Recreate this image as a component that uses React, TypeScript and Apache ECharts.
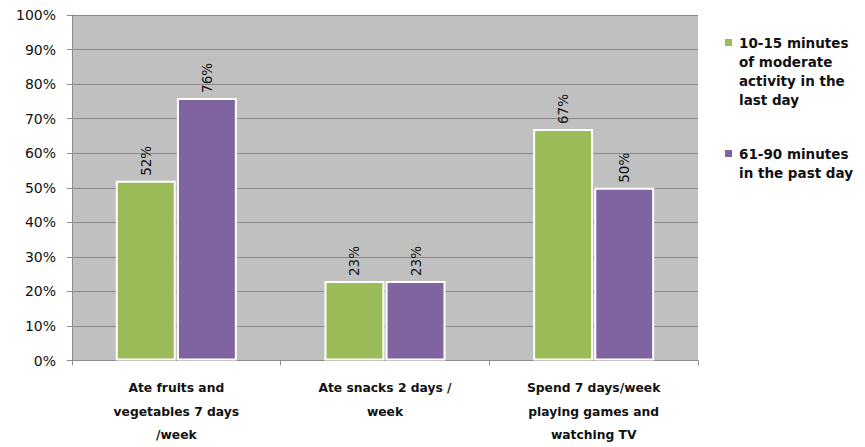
import React, { useEffect, useRef } from "react";
import * as echarts from "echarts";

const categories = [
  "Ate fruits and\nvegetables 7 days\n/week",
  "Ate snacks 2 days /\nweek",
  "Spend 7 days/week\nplaying games and\nwatching TV",
];
const seriesNames = [
  "10-15 minutes\nof moderate\nactivity in the\nlast day",
  "61-90 minutes\nin the past day",
];
const greenValues = [52, 23, 67];
const purpleValues = [76, 23, 50];
const yTicks = [0, 10, 20, 30, 40, 50, 60, 70, 80, 90, 100];

const GREEN = "#9bbb59";
const PURPLE = "#8064a2";
const FONT = "'DejaVu Sans', sans-serif";

export default function App() {
  const ref = useRef<HTMLDivElement>(null);
  useEffect(() => {
    if (!ref.current) return;
    const chart = echarts.init(ref.current, null, { renderer: "svg" });
    const labelCfg = {
      show: true,
      position: "top" as const,
      rotate: 90,
      align: "left" as const,
      verticalAlign: "middle" as const,
      distance: 5,
      formatter: "{c}%",
      color: "#111",
      fontSize: 13.5,
      fontFamily: FONT,
    };
    chart.setOption({
      animation: false,
      backgroundColor: "#fff",
      grid: { left: 72, right: 167, top: 15, bottom: 83, show: true, backgroundColor: "#c0c0c0", borderWidth: 0 },
      xAxis: {
        type: "category",
        data: categories,
        axisLine: { show: true, lineStyle: { color: "#8c8c8c", width: 1 } },
        axisTick: { show: true, length: 5, lineStyle: { color: "#8c8c8c" } },
        axisLabel: {
          color: "#111",
          fontSize: 12.3,
          fontWeight: "bold",
          fontFamily: FONT,
          lineHeight: 23.5,
          margin: 16,
          interval: 0,
        },
      },
      yAxis: {
        type: "value",
        min: 0,
        max: 100,
        interval: 10,
        axisLine: { show: true, lineStyle: { color: "#8c8c8c" } },
        axisTick: { show: true, length: 5, lineStyle: { color: "#8c8c8c" } },
        splitLine: { show: true, lineStyle: { color: "#8a8a8a", width: 1 } },
        axisLabel: {
          formatter: (v: number) => (yTicks.includes(v) ? v + "%" : ""),
          color: "#111",
          fontSize: 14,
          fontFamily: FONT,
          margin: 16,
        },
      },
      series: [
        {
          name: seriesNames[0],
          type: "bar",
          data: greenValues,
          barGap: "2%",
          barCategoryGap: "42%",
          itemStyle: { color: GREEN, borderColor: "#fff", borderWidth: 2 },
          label: labelCfg,
        },
        {
          name: seriesNames[1],
          type: "bar",
          data: purpleValues,
          itemStyle: { color: PURPLE, borderColor: "#fff", borderWidth: 2 },
          label: labelCfg,
        },
      ],
      graphic: [
        { type: "rect", left: 725, top: 39, shape: { width: 7, height: 7 }, style: { fill: GREEN } },
        {
          type: "text",
          left: 739,
          top: 33,
          style: {
            text: seriesNames[0],
            fill: "#111",
            font: `bold 13.5px ${FONT}`,
            lineHeight: 19,
          },
        },
        { type: "rect", left: 725, top: 150, shape: { width: 7, height: 7 }, style: { fill: PURPLE } },
        {
          type: "text",
          left: 739,
          top: 144,
          style: {
            text: seriesNames[1],
            fill: "#111",
            font: `bold 13.5px ${FONT}`,
            lineHeight: 19,
          },
        },
      ],
    });
    return () => chart.dispose();
  }, []);
  return <div ref={ref} style={{ position: "absolute", left: 0, top: 0, width: 865, height: 447 }} />;
}
